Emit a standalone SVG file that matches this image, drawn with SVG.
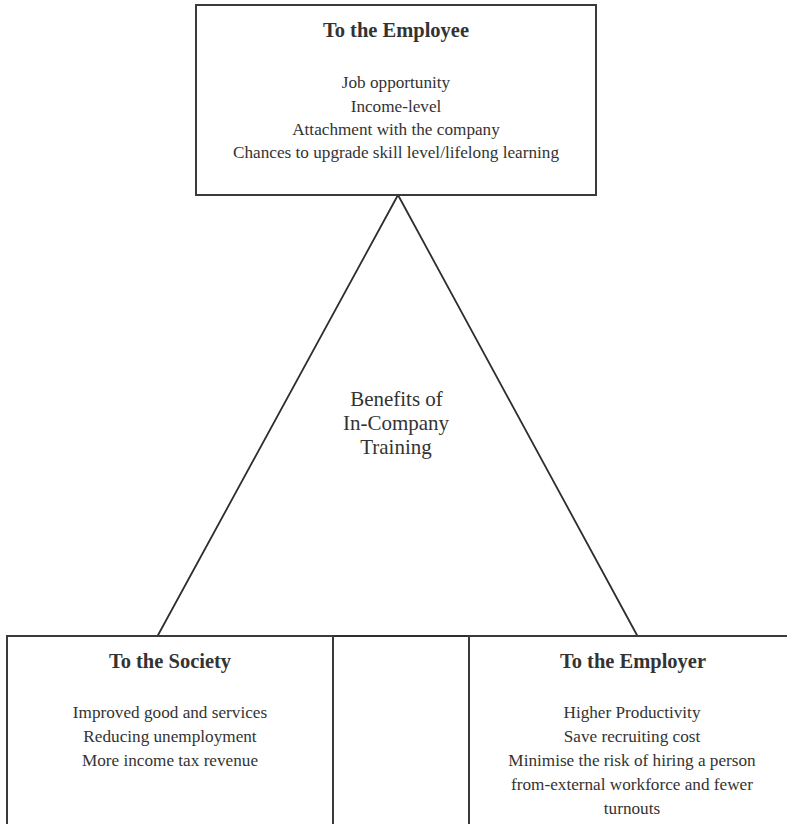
<svg xmlns="http://www.w3.org/2000/svg" width="787" height="824" viewBox="0 0 787 824">
<style>
.box{fill:#fff;stroke:#3a3a3a;stroke-width:2}
.ln{fill:none;stroke:#2e2e2e;stroke-width:1.8}
.t{font-family:"Liberation Serif","Times New Roman",serif;fill:#333;text-anchor:middle}
.h{font-size:20.5px;font-weight:bold}
.b{font-size:17.2px}
.c{font-size:21px}
</style>
<rect x="0" y="0" width="787" height="824" fill="#fff"/>
<g id="connectors">
<path class="ln" d="M157,637 L398,195 L638,637"/>
<line class="ln" x1="333" y1="636" x2="469" y2="636"/>
</g>
<g id="employee">
<rect class="box" x="196" y="5" width="400" height="190"/>
<text class="t h" x="396" y="37">To the Employee</text>
<text class="t b" x="396" y="88">Job opportunity</text>
<text class="t b" x="396" y="111.5">Income-level</text>
<text class="t b" x="396" y="134.5">Attachment with the company</text>
<text class="t b" x="396" y="158">Chances to upgrade skill level/lifelong learning</text>
</g>
<g id="center">
<text class="t c" x="396.5" y="406">Benefits of</text>
<text class="t c" x="396" y="430">In-Company</text>
<text class="t c" x="396" y="454">Training</text>
</g>
<g id="society">
<rect class="box" x="7" y="636" width="326" height="200"/>
<text class="t h" x="170" y="668">To the Society</text>
<text class="t b" x="170" y="718">Improved good and services</text>
<text class="t b" x="170" y="742">Reducing unemployment</text>
<text class="t b" x="170" y="766">More income tax revenue</text>
</g>
<g id="employer">
<rect class="box" x="469" y="636" width="340" height="200"/>
<text class="t h" x="633" y="668">To the Employer</text>
<text class="t b" x="632" y="718">Higher Productivity</text>
<text class="t b" x="632" y="742">Save recruiting cost</text>
<text class="t b" x="632" y="766">Minimise the risk of hiring a person</text>
<text class="t b" x="632" y="790">from-external workforce and fewer</text>
<text class="t b" x="632" y="814">turnouts</text>
</g>
</svg>
